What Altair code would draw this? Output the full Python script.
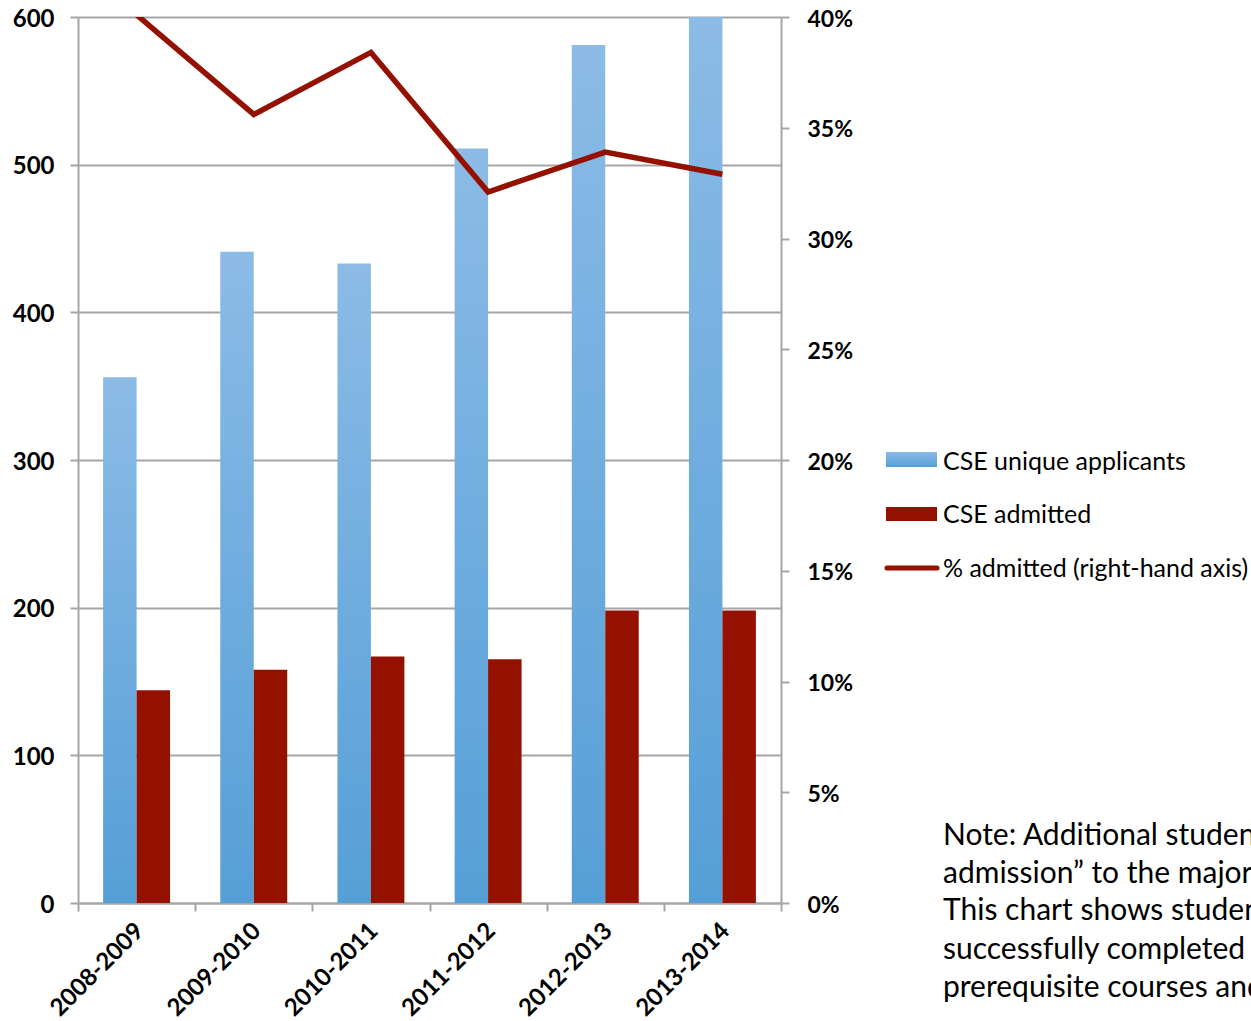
import altair as alt
import pandas as pd

years = ["2008-2009", "2009-2010", "2010-2011", "2011-2012", "2012-2013", "2013-2014"]
applicants = [356, 441, 433, 511, 581, 602]
admitted = [144, 158, 167, 165, 198, 198]
pct_admitted = [0.401, 0.356, 0.384, 0.321, 0.339, 0.329]

series_names = ["CSE unique applicants", "CSE admitted", "% admitted (right-hand axis)"]
left_ticks = [0, 100, 200, 300, 400, 500, 600]
right_ticks = [0, 0.05, 0.10, 0.15, 0.20, 0.25, 0.30, 0.35, 0.40]

note_lines = [
    "Note: Additional students were granted “early",
    "admission” to the major in each year.",
    "This chart shows students who have",
    "successfully completed all of the",
    "prerequisite courses and applied.",
]

FONT = "Lato"
BLUE_TOP = "#8cbbe6"
BLUE_BOT = "#559fd7"
RED = "#941100"
GRID = "#a6a6a6"

bars_df = pd.DataFrame({
    "year": years * 2,
    "series": [series_names[0]] * len(years) + [series_names[1]] * len(years),
    "value": applicants + admitted,
})
line_df = pd.DataFrame({"year": years, "pct": pct_admitted})

x_enc = alt.X(
    "year:N",
    sort=years,
    scale=alt.Scale(paddingInner=0, paddingOuter=0),
    axis=alt.Axis(
        title=None,
        labelAngle=-45,
        labelAlign="right",
        labelBaseline="middle",
        labelFont=FONT,
        labelFontSize=24,
        labelFontWeight="bold",
        labelColor="black",
        labelPadding=16,
        labelOffset=3,
        tickBand="extent",
        tickSize=8,
        tickColor=GRID,
        tickWidth=2,
        domainColor=GRID,
        domainWidth=2,
        grid=False,
    ),
)
xoff = alt.XOffset(
    "series:N",
    sort=series_names[:2],
    scale=alt.Scale(domain=series_names[:2], paddingInner=0, paddingOuter=0.75),
)
y_left = alt.Y(
    "value:Q",
    scale=alt.Scale(domain=[0, 600], nice=False),
    axis=alt.Axis(
        title=None,
        values=left_ticks,
        orient="left",
        labelFont=FONT,
        labelFontSize=24,
        labelFontWeight="bold",
        labelColor="black",
        labelPadding=16,
        labelOffset=2,
        tickSize=8,
        tickColor=GRID,
        tickWidth=2,
        domainColor=GRID,
        domainWidth=2,
        grid=True,
        gridColor=GRID,
        gridWidth=2,
    ),
)

gradient = alt.Gradient(
    gradient="linear",
    stops=[alt.GradientStop(color=BLUE_TOP, offset=0), alt.GradientStop(color=BLUE_BOT, offset=1)],
    x1=0, x2=0, y1=0, y2=1,
)

blue = alt.Chart(bars_df).transform_filter(
    alt.datum.series == series_names[0]
).mark_bar(color=gradient, clip=True).encode(x=x_enc, xOffset=xoff, y=y_left)

red = alt.Chart(bars_df).transform_filter(
    alt.datum.series == series_names[1]
).mark_bar(color=RED, clip=True).encode(x=x_enc, xOffset=xoff, y=y_left)

bars = alt.layer(blue, red)

line = alt.Chart(line_df).mark_line(color=RED, strokeWidth=5.5, clip=True).encode(
    x=alt.X("year:N", sort=years),
    y=alt.Y(
        "pct:Q",
        scale=alt.Scale(domain=[0, 0.4], nice=False),
        axis=alt.Axis(
            title=None,
            orient="right",
            values=right_ticks,
            format=".0%",
            labelFont=FONT,
            labelFontSize=23,
            labelFontWeight="bold",
            labelColor="black",
            labelPadding=18,
            labelOffset=2,
            tickSize=8,
            tickColor=GRID,
            tickWidth=2,
            domainColor=GRID,
            domainWidth=2,
            grid=False,
        ),
    ),
)

one = alt.Data(values=[{}])

leg_blue = alt.Chart(one).mark_rect(color=gradient).encode(
    x=alt.value(808), x2=alt.value(859), y=alt.value(435), y2=alt.value(450))
leg_red = alt.Chart(one).mark_rect(color=RED).encode(
    x=alt.value(808), x2=alt.value(859), y=alt.value(490), y2=alt.value(504))
leg_line = alt.Chart(one).mark_rule(color=RED, strokeWidth=5, strokeCap="round").encode(
    x=alt.value(809), x2=alt.value(859), y=alt.value(551))

leg_text_df = pd.DataFrame({"label": series_names, "ypos": [445, 498, 552]})
leg_text = alt.Chart(leg_text_df).mark_text(
    font=FONT, fontSize=25, align="left", baseline="middle", color="black"
).encode(x=alt.value(865), y=alt.Y("ypos:Q", scale=None), text="label:N")

note_df = pd.DataFrame({"line": note_lines, "ypos": [819, 857, 894, 933, 971]})
note = alt.Chart(note_df).mark_text(
    font=FONT, fontSize=30, align="left", baseline="middle", color="black"
).encode(x=alt.value(865), y=alt.Y("ypos:Q", scale=None), text="line:N")

chart = alt.layer(
    bars, line, leg_blue, leg_red, leg_line, leg_text, note
).resolve_scale(y="independent").properties(
    width=703,
    height=886,
    autosize=alt.AutoSizeParams(type="none"),
    padding={"left": 78, "top": 17, "right": 470, "bottom": 118},
).configure_view(stroke="transparent").configure(background="white")

chart.save("out.html", embed_options={"renderer": "svg", "actions": False})
